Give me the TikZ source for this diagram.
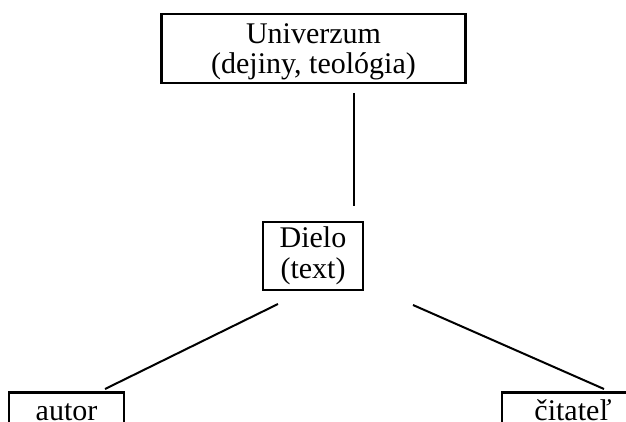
\documentclass[tikz,border=0pt]{standalone}
\usepackage{fontspec}
\setmainfont{Liberation Serif}
\begin{document}
\begin{tikzpicture}[x=1pt,y=1pt,
  box/.style={draw, line width=2.2pt, inner sep=0pt, align=center, anchor=base,
    font=\fontsize{30}{30.5}\selectfont},
  link/.style={line width=2pt}]
\useasboundingbox (0,0) rectangle (626,421);
\clip (0,0) rectangle (626,421);
\node[box, minimum width=304, text height=60pt, text depth=9pt] (univ) at (313.5,347)
  {Univerzum\\(dejiny, teológia)};
\node[box, minimum width=100, text height=56pt, text depth=12pt] (dielo) at (313,143)
  {Dielo\\(text)};
\node[box, minimum width=115, text height=28pt, text depth=30pt] (autor) at (66.5,0.5) {autor};
\node[box, minimum width=142, text height=28pt, text depth=30pt] (citatel) at (573,0.5) {čitateľ};
\coordinate (v1) at (354,328);
\coordinate (v2) at (354,215);
\coordinate (l1) at (278,117);
\coordinate (l2) at (105,32);
\coordinate (r1) at (413,116);
\coordinate (r2) at (604,32);
\draw[link] (v1) -- (v2);
\draw[link] (l1) -- (l2);
\draw[link] (r1) -- (r2);
\end{tikzpicture}
\end{document}
